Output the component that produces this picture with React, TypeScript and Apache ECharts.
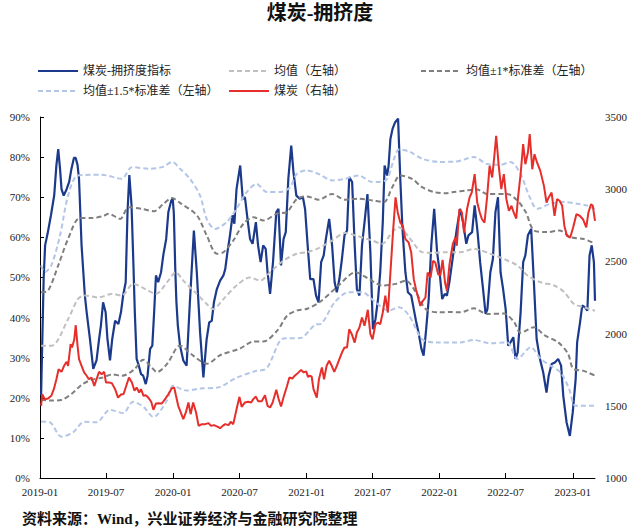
import React, { useEffect, useRef } from "react";
import * as echarts from "echarts";

// ---------------- data ----------------
const TITLE = "煤炭-拥挤度";
const SOURCE = "资料来源：Wind，兴业证券经济与金融研究院整理";
const NAME_CROWD = "煤炭-拥挤度指标";
const NAME_MEAN = "均值（左轴）";
const NAME_1STD = "均值±1*标准差（左轴）";
const NAME_15STD = "均值±1.5*标准差（左轴）";
const NAME_COAL = "煤炭（右轴）";

const X_MIN = "2019-01-01";
const X_MAX = "2023-03-03";
const LEFT_MIN = 0;
const LEFT_MAX = 90;
const LEFT_STEP = 10;
const RIGHT_MIN = 1000;
const RIGHT_MAX = 3500;
const RIGHT_STEP = 500;

const crowding: [string, number][] = [
  ["2019-01-04", 20.6], ["2019-01-11", 49.6], ["2019-01-15", 58], ["2019-01-22", 61], ["2019-01-31", 65.5],
  ["2019-02-09", 70.5], ["2019-02-15", 78], ["2019-02-20", 82], ["2019-02-25", 77], ["2019-03-01", 72],
  ["2019-03-07", 70.4], ["2019-03-15", 72], ["2019-03-22", 73.8], ["2019-03-28", 77], ["2019-04-04", 79.8],
  ["2019-04-09", 79.8], ["2019-04-14", 78], ["2019-04-18", 74.6], ["2019-04-25", 58], ["2019-05-04", 45.5],
  ["2019-05-09", 41.3], ["2019-05-18", 34.6], ["2019-05-27", 27.2], ["2019-06-05", 29.3], ["2019-06-12", 34.6],
  ["2019-06-17", 38], ["2019-06-23", 43.8], ["2019-06-30", 41.3], ["2019-07-05", 34.6], ["2019-07-12", 29.3],
  ["2019-07-18", 34.6], ["2019-07-26", 39.2], ["2019-08-04", 38.4], ["2019-08-11", 41.3], ["2019-08-17", 45.5],
  ["2019-08-24", 48.8], ["2019-08-29", 66.3], ["2019-09-03", 75.5], ["2019-09-09", 68], ["2019-09-14", 53.8],
  ["2019-09-18", 41.3], ["2019-09-23", 29.7], ["2019-09-29", 28], ["2019-10-05", 25.9], ["2019-10-11", 25.5],
  ["2019-10-18", 23.4], ["2019-10-23", 25.5], ["2019-10-30", 32.2], ["2019-11-05", 33], ["2019-11-10", 41.3],
  ["2019-11-15", 50.5], ["2019-11-21", 48.8], ["2019-11-29", 51.3], ["2019-12-05", 55.5], ["2019-12-13", 59.6],
  ["2019-12-19", 66.3], ["2019-12-27", 69.2], ["2019-12-31", 69.6], ["2020-01-03", 66], ["2020-01-07", 52],
  ["2020-01-10", 44], ["2020-01-14", 38], ["2020-01-20", 33], ["2020-01-29", 29.3], ["2020-02-07", 28],
  ["2020-02-16", 43.8], ["2020-02-27", 61.7], ["2020-03-06", 51.3], ["2020-03-15", 36.3], ["2020-03-24", 25.1],
  ["2020-04-02", 34.6], ["2020-04-09", 38.8], ["2020-04-16", 39.2], ["2020-04-22", 43.8], ["2020-04-30", 47.1],
  ["2020-05-09", 49.2], ["2020-05-18", 50.5], ["2020-05-23", 52.1], ["2020-05-29", 56.3], ["2020-06-05", 60.5],
  ["2020-06-12", 65.5], ["2020-06-17", 63.4], ["2020-06-23", 72.1], ["2020-07-03", 77.9], ["2020-07-10", 69.6],
  ["2020-07-16", 70], ["2020-07-23", 64.6], ["2020-07-30", 59.6], ["2020-08-06", 58.4], ["2020-08-15", 63.8],
  ["2020-08-21", 58], ["2020-08-28", 53.8], ["2020-09-04", 58], ["2020-09-11", 57.1], ["2020-09-16", 51.3],
  ["2020-09-23", 45.9], ["2020-10-01", 53.8], ["2020-10-10", 66.3], ["2020-10-16", 67.1], ["2020-10-23", 53],
  ["2020-10-30", 59.6], ["2020-11-05", 61.3], ["2020-11-12", 74.6], ["2020-11-20", 82.9], ["2020-11-26", 76.3],
  ["2020-12-04", 70.4], ["2020-12-13", 69.6], ["2020-12-22", 70], ["2020-12-28", 67], ["2021-01-04", 58],
  ["2021-01-11", 49.6], ["2021-01-20", 49.6], ["2021-01-27", 45.5], ["2021-02-03", 43.8], ["2021-02-10", 53.8],
  ["2021-02-17", 55.5], ["2021-02-23", 59.6], ["2021-03-04", 64.6], ["2021-03-12", 58], ["2021-03-19", 48.8],
  ["2021-03-25", 46.3], ["2021-04-01", 49.6], ["2021-04-08", 54.6], ["2021-04-15", 60.5], ["2021-04-22", 61.7],
  ["2021-04-28", 75], ["2021-05-06", 73.8], ["2021-05-13", 58], ["2021-05-19", 47.1], ["2021-05-26", 45.5],
  ["2021-06-02", 58], ["2021-06-09", 63.8], ["2021-06-17", 70.8], ["2021-06-25", 56.3], ["2021-07-02", 37.1],
  ["2021-07-09", 39.6], ["2021-07-16", 44.6], ["2021-07-22", 51.3], ["2021-07-29", 63.8], ["2021-08-03", 77.9],
  ["2021-08-10", 75.4], ["2021-08-14", 77.9], ["2021-08-19", 84.6], ["2021-08-25", 87.1], ["2021-09-01", 88.7],
  ["2021-09-09", 89.6], ["2021-09-15", 74.6], ["2021-09-21", 62.1], ["2021-09-29", 51.3], ["2021-10-06", 46.3],
  ["2021-10-15", 45.5], ["2021-10-22", 42.1], ["2021-10-28", 39.2], ["2021-11-04", 36.3], ["2021-11-12", 32.2],
  ["2021-11-18", 30.5], ["2021-11-25", 37.1], ["2021-12-02", 44.6], ["2021-12-09", 58], ["2021-12-17", 67.1],
  ["2021-12-25", 56.3], ["2021-12-31", 52.1], ["2022-01-08", 44.6], ["2022-01-15", 45.9], ["2022-01-21", 45.5],
  ["2022-01-28", 49], ["2022-02-08", 56.3], ["2022-02-17", 62.1], ["2022-02-26", 67.1], ["2022-03-06", 63.8],
  ["2022-03-15", 58.4], ["2022-03-21", 60.5], ["2022-03-31", 61.3], ["2022-04-07", 68], ["2022-04-15", 61.3],
  ["2022-04-22", 53.8], ["2022-04-30", 47.1], ["2022-05-07", 40.9], ["2022-05-12", 42.1], ["2022-05-20", 51.3],
  ["2022-05-27", 54.6], ["2022-06-03", 66.3], ["2022-06-10", 70], ["2022-06-17", 51.3], ["2022-06-24", 47.1],
  ["2022-07-01", 42.1], ["2022-07-08", 33], ["2022-07-14", 33.8], ["2022-07-22", 35.1], ["2022-07-28", 29.7],
  ["2022-08-03", 31.3], ["2022-08-11", 41.3], ["2022-08-18", 53.8], ["2022-08-24", 55.5], ["2022-08-31", 60.5],
  ["2022-09-09", 62.1], ["2022-09-16", 49.6], ["2022-09-24", 34.6], ["2022-10-03", 29.7], ["2022-10-12", 26.3],
  ["2022-10-21", 21.3], ["2022-10-27", 25.5], ["2022-11-04", 28.4], ["2022-11-13", 28.8], ["2022-11-22", 29.7],
  ["2022-11-30", 28], ["2022-12-06", 20.5], ["2022-12-15", 13.9], ["2022-12-24", 10.5], ["2023-01-01", 16.4],
  ["2023-01-09", 24.7], ["2023-01-13", 33.8], ["2023-01-21", 38.8], ["2023-01-27", 43], ["2023-02-03", 42.6],
  ["2023-02-10", 41.7], ["2023-02-16", 55.5], ["2023-02-22", 58], ["2023-02-28", 53.8], ["2023-03-03", 44.2],
];

const coalIndex: [string, number][] = [
  ["2019-01-04", 1500], ["2019-01-07", 1580], ["2019-01-14", 1546], ["2019-01-23", 1550], ["2019-02-01", 1569],
  ["2019-02-08", 1615], ["2019-02-15", 1684], ["2019-02-21", 1753], ["2019-03-01", 1735], ["2019-03-08", 1777],
  ["2019-03-15", 1805], ["2019-03-19", 1777], ["2019-03-26", 1927], ["2019-03-30", 1904], ["2019-04-05", 1961],
  ["2019-04-09", 2058], ["2019-04-14", 1915], ["2019-04-18", 1823], ["2019-04-25", 1777], ["2019-05-02", 1731],
  ["2019-05-09", 1708], ["2019-05-15", 1684], ["2019-05-22", 1696], ["2019-05-30", 1638], ["2019-06-05", 1684],
  ["2019-06-12", 1735], ["2019-06-19", 1719], ["2019-06-26", 1735], ["2019-07-01", 1661], ["2019-07-09", 1661],
  ["2019-07-17", 1657], ["2019-07-26", 1615], ["2019-08-03", 1557], ["2019-08-12", 1580], ["2019-08-18", 1580],
  ["2019-08-24", 1627], ["2019-09-02", 1696], ["2019-09-10", 1661], ["2019-09-17", 1604], ["2019-09-23", 1627],
  ["2019-09-30", 1592], ["2019-10-05", 1615], ["2019-10-12", 1569], ["2019-10-18", 1573], ["2019-10-25", 1557],
  ["2019-11-02", 1528], ["2019-11-08", 1472], ["2019-11-15", 1516], ["2019-11-22", 1518], ["2019-12-01", 1516],
  ["2019-12-10", 1546], ["2019-12-19", 1580], ["2019-12-28", 1620], ["2020-01-04", 1627], ["2020-01-09", 1569],
  ["2020-01-15", 1500], ["2020-01-22", 1454], ["2020-01-29", 1407], ["2020-02-05", 1454], ["2020-02-12", 1523],
  ["2020-02-18", 1442], ["2020-02-25", 1523], ["2020-03-04", 1454], ["2020-03-11", 1361], ["2020-03-20", 1373],
  ["2020-03-29", 1373], ["2020-04-07", 1380], ["2020-04-14", 1361], ["2020-04-22", 1366], ["2020-04-30", 1357],
  ["2020-05-09", 1345], ["2020-05-16", 1361], ["2020-05-23", 1373], ["2020-06-01", 1366], ["2020-06-07", 1389],
  ["2020-06-14", 1373], ["2020-06-23", 1476], ["2020-07-01", 1562], ["2020-07-07", 1493], ["2020-07-16", 1523],
  ["2020-07-25", 1528], ["2020-08-02", 1523], ["2020-08-08", 1546], ["2020-08-15", 1564], ["2020-08-21", 1532],
  ["2020-08-31", 1532], ["2020-09-09", 1573], ["2020-09-16", 1500], ["2020-09-23", 1488], ["2020-09-30", 1523],
  ["2020-10-10", 1611], ["2020-10-16", 1551], ["2020-10-23", 1495], ["2020-10-31", 1569], ["2020-11-08", 1634],
  ["2020-11-15", 1696], ["2020-11-23", 1689], ["2020-12-01", 1712], ["2020-12-08", 1726], ["2020-12-17", 1749],
  ["2020-12-24", 1731], ["2020-12-31", 1738], ["2021-01-05", 1700], ["2021-01-09", 1708], ["2021-01-15", 1703],
  ["2021-01-20", 1615], ["2021-01-29", 1557], ["2021-02-04", 1684], ["2021-02-12", 1765], ["2021-02-18", 1684],
  ["2021-02-25", 1777], ["2021-03-04", 1812], ["2021-03-11", 1777], ["2021-03-18", 1735], ["2021-03-25", 1777],
  ["2021-04-01", 1823], ["2021-04-08", 1869], ["2021-04-15", 1904], ["2021-04-22", 1904], ["2021-04-28", 2030],
  ["2021-05-05", 1996], ["2021-05-13", 1938], ["2021-05-19", 2008], ["2021-05-26", 2042], ["2021-06-02", 2112],
  ["2021-06-09", 2054], ["2021-06-18", 2165], ["2021-06-25", 1996], ["2021-07-01", 1961], ["2021-07-09", 2065],
  ["2021-07-16", 2077], ["2021-07-22", 2065], ["2021-07-29", 2146], ["2021-08-05", 2262], ["2021-08-12", 2146],
  ["2021-08-19", 2423], ["2021-08-26", 2700], ["2021-09-02", 2943], ["2021-09-08", 2839], ["2021-09-15", 2769],
  ["2021-09-22", 2746], ["2021-09-29", 2654], ["2021-10-08", 2631], ["2021-10-15", 2562], ["2021-10-22", 2377],
  ["2021-10-28", 2307], ["2021-11-03", 2250], ["2021-11-09", 2192], ["2021-11-16", 2227], ["2021-11-23", 2250],
  ["2021-11-29", 2423], ["2021-12-07", 2388], ["2021-12-14", 2504], ["2021-12-20", 2492], ["2021-12-28", 2411],
  ["2022-01-03", 2404], ["2022-01-09", 2510], ["2022-01-16", 2350], ["2022-01-21", 2296], ["2022-01-28", 2480],
  ["2022-02-06", 2619], ["2022-02-13", 2665], ["2022-02-17", 2608], ["2022-02-24", 2861], ["2022-03-03", 2839],
  ["2022-03-09", 2700], ["2022-03-17", 2861], ["2022-03-24", 2943], ["2022-03-30", 2977], ["2022-04-07", 3104],
  ["2022-04-14", 2908], ["2022-04-21", 2839], ["2022-04-27", 2792], ["2022-05-04", 2769], ["2022-05-11", 2943],
  ["2022-05-18", 3162], ["2022-05-25", 3081], ["2022-05-31", 3231], ["2022-06-05", 3370], ["2022-06-12", 3162],
  ["2022-06-19", 3000], ["2022-06-26", 3104], ["2022-07-03", 2931], ["2022-07-10", 2850], ["2022-07-17", 2885],
  ["2022-07-23", 2839], ["2022-07-30", 2797], ["2022-08-04", 2943], ["2022-08-11", 3104], ["2022-08-18", 3312],
  ["2022-08-24", 3173], ["2022-08-31", 3254], ["2022-09-05", 3381], ["2022-09-12", 3138], ["2022-09-18", 3242],
  ["2022-09-25", 3185], ["2022-10-04", 3127], ["2022-10-14", 3023], ["2022-10-21", 2908], ["2022-10-27", 2943],
  ["2022-11-04", 2977], ["2022-11-12", 2816], ["2022-11-19", 2931], ["2022-11-26", 2920], ["2022-12-03", 2885],
  ["2022-12-09", 2746], ["2022-12-16", 2677], ["2022-12-25", 2665], ["2023-01-02", 2735], ["2023-01-11", 2827],
  ["2023-01-20", 2816], ["2023-01-29", 2792], ["2023-02-07", 2735], ["2023-02-13", 2839], ["2023-02-20", 2896],
  ["2023-02-25", 2885], ["2023-03-03", 2781],
];

const meanLine: [string, number][] = [
  ["2019-01-04", 33], ["2019-02-02", 33], ["2019-03-19", 39.6], ["2019-04-15", 44.6], ["2019-05-04", 45.5],
  ["2019-06-10", 45], ["2019-07-17", 45.9], ["2019-08-13", 45.5], ["2019-09-14", 48.4], ["2019-10-17", 47.1],
  ["2019-11-14", 45.9], ["2019-12-19", 49.2], ["2020-01-08", 51.3], ["2020-01-29", 49.2], ["2020-03-06", 45.9],
  ["2020-04-02", 43.4], ["2020-04-20", 42.1], ["2020-05-18", 44.6], ["2020-06-23", 48], ["2020-07-30", 50],
  ["2020-08-27", 49.2], ["2020-09-23", 51.3], ["2020-10-30", 54.2], ["2020-12-05", 55.9], ["2021-01-02", 56.3],
  ["2021-02-03", 57.3], ["2021-03-12", 59.2], ["2021-04-17", 61.1], ["2021-05-15", 60.5], ["2021-06-30", 59.2],
  ["2021-07-27", 58.4], ["2021-08-24", 61.3], ["2021-09-11", 62.5], ["2021-10-09", 60], ["2021-11-14", 56.3],
  ["2021-12-12", 56.1], ["2022-01-17", 56.3], ["2022-02-27", 56.3], ["2022-04-05", 57.1], ["2022-05-20", 55.9],
  ["2022-06-26", 54.6], ["2022-08-02", 53], ["2022-08-30", 50.5], ["2022-10-05", 48.8], ["2022-11-11", 48],
  ["2022-12-09", 46.3], ["2023-01-04", 43.4], ["2023-01-31", 42.6], ["2023-03-03", 41.7],
];

const plus1Std: [string, number][] = [
  ["2019-01-04", 46.3], ["2019-01-23", 46.7], ["2019-02-20", 53], ["2019-03-19", 59.6], ["2019-04-20", 64.8],
  ["2019-05-22", 64.8], ["2019-06-24", 65.3], ["2019-07-08", 65.9], ["2019-08-09", 64.6], ["2019-09-01", 67.5],
  ["2019-10-08", 67.1], ["2019-11-09", 66.5], ["2019-12-06", 68.4], ["2019-12-29", 69.8], ["2020-01-20", 68.6],
  ["2020-03-06", 65.5], ["2020-04-02", 60.5], ["2020-04-30", 55.9], ["2020-05-18", 56.3], ["2020-06-14", 59.2],
  ["2020-07-12", 63.4], ["2020-08-08", 65], ["2020-09-05", 64.2], ["2020-10-12", 65.9], ["2020-11-08", 66.3],
  ["2020-12-06", 69.6], ["2021-01-02", 70.2], ["2021-02-03", 69.4], ["2021-03-12", 70.8], ["2021-04-17", 69.4],
  ["2021-05-24", 69.6], ["2021-06-30", 69.2], ["2021-08-01", 68.8], ["2021-08-24", 72.5], ["2021-09-15", 75.4],
  ["2021-10-17", 74.6], ["2021-11-14", 72.5], ["2021-12-16", 71.3], ["2022-01-17", 71], ["2022-02-08", 71.3],
  ["2022-03-17", 71.7], ["2022-04-14", 71.9], ["2022-05-11", 70.8], ["2022-07-05", 70.8], ["2022-08-02", 69.2],
  ["2022-08-25", 66.3], ["2022-09-17", 61.7], ["2022-10-23", 61.3], ["2022-11-25", 61.7], ["2022-12-27", 60],
  ["2023-01-31", 59.6], ["2023-03-03", 58.4],
];

const minus1Std: [string, number][] = [
  ["2019-01-04", 19.5], ["2019-02-02", 19.3], ["2019-03-02", 19.5], ["2019-03-29", 21], ["2019-04-26", 23.3],
  ["2019-05-23", 24.5], ["2019-06-20", 25], ["2019-07-18", 25.8], ["2019-08-14", 25.5], ["2019-09-16", 27],
  ["2019-10-11", 29.5], ["2019-10-30", 28], ["2019-11-18", 26.4], ["2019-12-16", 28.5], ["2020-01-20", 33],
  ["2020-02-25", 30.5], ["2020-04-03", 28.5], ["2020-05-09", 30.6], ["2020-07-03", 32.3], ["2020-08-08", 34],
  ["2020-09-04", 34], ["2020-10-13", 36.8], ["2020-11-09", 40.5], ["2020-12-07", 41.8], ["2021-01-03", 42.2],
  ["2021-02-08", 44], ["2021-03-30", 48], ["2021-05-15", 51.3], ["2021-06-21", 49.6], ["2021-07-27", 48],
  ["2021-09-03", 48.4], ["2021-09-30", 49.2], ["2021-10-28", 46.3], ["2021-11-24", 42.1], ["2021-12-31", 41.3],
  ["2022-01-30", 41.4], ["2022-02-27", 41.3], ["2022-04-05", 42.3], ["2022-05-11", 40.9], ["2022-06-26", 41],
  ["2022-07-24", 38.9], ["2022-08-11", 36.2], ["2022-09-17", 37.6], ["2022-10-15", 35.6], ["2022-11-21", 33.9],
  ["2022-12-19", 31], ["2023-01-02", 27.3], ["2023-01-31", 26.7], ["2023-03-03", 25.5],
];

const plus15Std: [string, number][] = [
  ["2019-01-04", 53], ["2019-01-14", 51.3], ["2019-02-01", 53], ["2019-02-25", 60.5], ["2019-03-19", 70.4],
  ["2019-04-15", 75.4], ["2019-06-19", 75.6], ["2019-08-13", 74.6], ["2019-09-10", 77.5], ["2019-10-26", 77.1],
  ["2019-12-02", 77.5], ["2019-12-30", 78.8], ["2020-01-20", 77.1], ["2020-02-16", 74.6], ["2020-03-15", 70.4],
  ["2020-04-02", 64.6], ["2020-04-25", 62.1], ["2020-05-27", 63.8], ["2020-06-23", 67.1], ["2020-07-21", 71.3],
  ["2020-08-17", 73.3], ["2020-09-14", 71.3], ["2020-10-21", 71.3], ["2020-11-17", 72.5], ["2020-12-05", 75.8],
  ["2021-01-02", 76.7], ["2021-02-03", 75.8], ["2021-03-12", 74.2], ["2021-04-17", 74.6], ["2021-05-24", 75.4],
  ["2021-06-30", 73.8], ["2021-08-06", 74.2], ["2021-08-29", 79.6], ["2021-09-11", 81.9], ["2021-10-09", 81.4],
  ["2021-11-14", 79.6], ["2021-12-31", 78.8], ["2022-02-16", 78.9], ["2022-04-05", 80], ["2022-05-11", 78.3],
  ["2022-06-17", 78.1], ["2022-07-14", 78.8], ["2022-08-11", 75.8], ["2022-09-03", 70.4], ["2022-09-26", 67.1],
  ["2022-11-01", 68.4], ["2022-12-08", 68.8], ["2023-01-13", 68.4], ["2023-02-10", 67.9], ["2023-03-03", 67.1],
];

const minus15Std: [string, number][] = [
  ["2019-01-04", 14.1], ["2019-01-28", 13.9], ["2019-03-01", 10.3], ["2019-04-02", 11.4], ["2019-05-02", 14],
  ["2019-06-05", 13.9], ["2019-07-12", 17], ["2019-08-17", 16.2], ["2019-09-13", 19], ["2019-10-12", 17.7],
  ["2019-11-08", 15.2], ["2019-12-15", 19.3], ["2020-01-01", 23], ["2020-02-07", 21.8], ["2020-03-15", 22.3],
  ["2020-05-04", 22.6], ["2020-06-23", 25], ["2020-08-12", 26.6], ["2020-09-14", 27.4], ["2020-10-30", 34.8],
  ["2020-12-15", 34.9], ["2021-01-24", 38.2], ["2021-02-11", 38.5], ["2021-03-19", 43.8], ["2021-04-26", 46.3],
  ["2021-06-02", 46.3], ["2021-07-09", 43.8], ["2021-08-14", 41.7], ["2021-09-11", 42.6], ["2021-10-09", 40.5],
  ["2021-11-14", 34.6], ["2021-12-21", 33.8], ["2022-02-27", 33.8], ["2022-04-05", 34.4], ["2022-05-20", 33.6],
  ["2022-07-05", 33.8], ["2022-08-02", 29.7], ["2022-09-08", 32.6], ["2022-10-05", 29.7], ["2022-11-01", 28],
  ["2022-11-29", 26.3], ["2022-12-22", 22.2], ["2023-01-09", 18], ["2023-03-03", 18],
];

// ---------------- styles ----------------
const BLUE = "#1c3a8c";
const RED = "#e62e2b";
const MEAN_C = "#c0c0c0";
const STD1_C = "#7f7f7f";
const STD15_C = "#b4c6e7";
const FONT = "'Liberation Serif', 'Noto Sans CJK SC', serif";
const HALF_YEAR = 182 * 24 * 3600 * 1000;

function fmtMonth(v: number): string {
  const d = new Date(v);
  return `${d.getFullYear()}-${String(d.getMonth() + 1).padStart(2, "0")}`;
}

export default function App() {
  const ref = useRef<HTMLDivElement>(null);
  useEffect(() => {
    if (!ref.current) return;
    const chart = echarts.init(ref.current, undefined, { renderer: "svg" });
    const dashed = (color: string) => ({ color, width: 2, type: [5, 3] as any });
    const legendBase = {
      itemWidth: 40,
      itemHeight: 2,
      padding: 0,
      itemGap: 0,
      textStyle: { fontSize: 12, fontFamily: FONT, color: "#222" },
    };
    chart.setOption({
      animation: false,
      backgroundColor: "#ffffff",
      title: {
        text: TITLE,
        left: "center",
        top: 3,
        padding: 0,
        textStyle: { fontSize: 20, fontWeight: "bold", fontFamily: FONT, color: "#111" },
      },
      legend: [
        { ...legendBase, data: [NAME_CROWD], left: 37, top: 65 },
        { ...legendBase, data: [NAME_MEAN], left: 228, top: 65 },
        { ...legendBase, data: [NAME_1STD], left: 420, top: 65 },
        { ...legendBase, data: [NAME_15STD], left: 37, top: 85 },
        { ...legendBase, data: [NAME_COAL], left: 228, top: 85 },
      ],
      grid: { left: 40, right: 45, top: 117, bottom: 53, containLabel: false, outerBoundsMode: "none" },
      xAxis: {
        type: "time",
        min: X_MIN,
        max: X_MAX,
        minInterval: HALF_YEAR,
        maxInterval: HALF_YEAR,
        axisLine: { lineStyle: { color: "#000", width: 1 } },
        axisTick: { inside: true, length: 5, lineStyle: { color: "#000" } },
        axisLabel: {
          formatter: (v: number) => fmtMonth(v),
          color: "#222",
          fontSize: 11,
          fontFamily: FONT,
          margin: 8,
          hideOverlap: false,
        },
        splitLine: { show: false },
      },
      yAxis: [
        {
          type: "value",
          min: LEFT_MIN,
          max: LEFT_MAX,
          interval: LEFT_STEP,
          axisLine: { show: true, lineStyle: { color: "#000", width: 1 } },
          axisTick: { show: true, inside: true, length: 4, lineStyle: { color: "#000" } },
          axisLabel: { formatter: "{value}%", color: "#222", fontSize: 11, fontFamily: FONT, margin: 10 },
          splitLine: { show: false },
        },
        {
          type: "value",
          min: RIGHT_MIN,
          max: RIGHT_MAX,
          interval: RIGHT_STEP,
          position: "right",
          axisLine: { show: false },
          axisTick: { show: false },
          axisLabel: {
            formatter: (v: number) => String(v),
            color: "#222",
            fontSize: 11,
            fontFamily: FONT,
            margin: 10,
          },
          splitLine: { show: false },
        },
      ],
      series: [
        {
          name: NAME_CROWD, type: "line", data: crowding, yAxisIndex: 0, symbol: "none",
          lineStyle: { color: BLUE, width: 2.2 }, itemStyle: { color: BLUE },
        },
        {
          name: NAME_MEAN, type: "line", data: meanLine, yAxisIndex: 0, symbol: "none", smooth: 0.3,
          lineStyle: dashed(MEAN_C), itemStyle: { color: MEAN_C },
        },
        {
          name: NAME_1STD, type: "line", data: plus1Std, yAxisIndex: 0, symbol: "none", smooth: 0.3,
          lineStyle: dashed(STD1_C), itemStyle: { color: STD1_C },
        },
        {
          name: NAME_1STD, type: "line", data: minus1Std, yAxisIndex: 0, symbol: "none", smooth: 0.3,
          lineStyle: dashed(STD1_C), itemStyle: { color: STD1_C },
        },
        {
          name: NAME_15STD, type: "line", data: plus15Std, yAxisIndex: 0, symbol: "none", smooth: 0.3,
          lineStyle: dashed(STD15_C), itemStyle: { color: STD15_C },
        },
        {
          name: NAME_15STD, type: "line", data: minus15Std, yAxisIndex: 0, symbol: "none", smooth: 0.3,
          lineStyle: dashed(STD15_C), itemStyle: { color: STD15_C },
        },
        {
          name: NAME_COAL, type: "line", data: coalIndex, yAxisIndex: 1, symbol: "none",
          lineStyle: { color: RED, width: 2 }, itemStyle: { color: RED },
        },
      ],
      graphic: [
        {
          type: "text",
          left: 22,
          top: 511,
          style: {
            text: SOURCE,
            font: `bold 15px ${FONT}`,
            fill: "#111",
          },
        },
      ],
    });
    return () => chart.dispose();
  }, []);
  return (
    <div
      ref={ref}
      style={{ position: "fixed", left: 0, top: 0, width: 640, height: 531, background: "#fff" }}
    />
  );
}
